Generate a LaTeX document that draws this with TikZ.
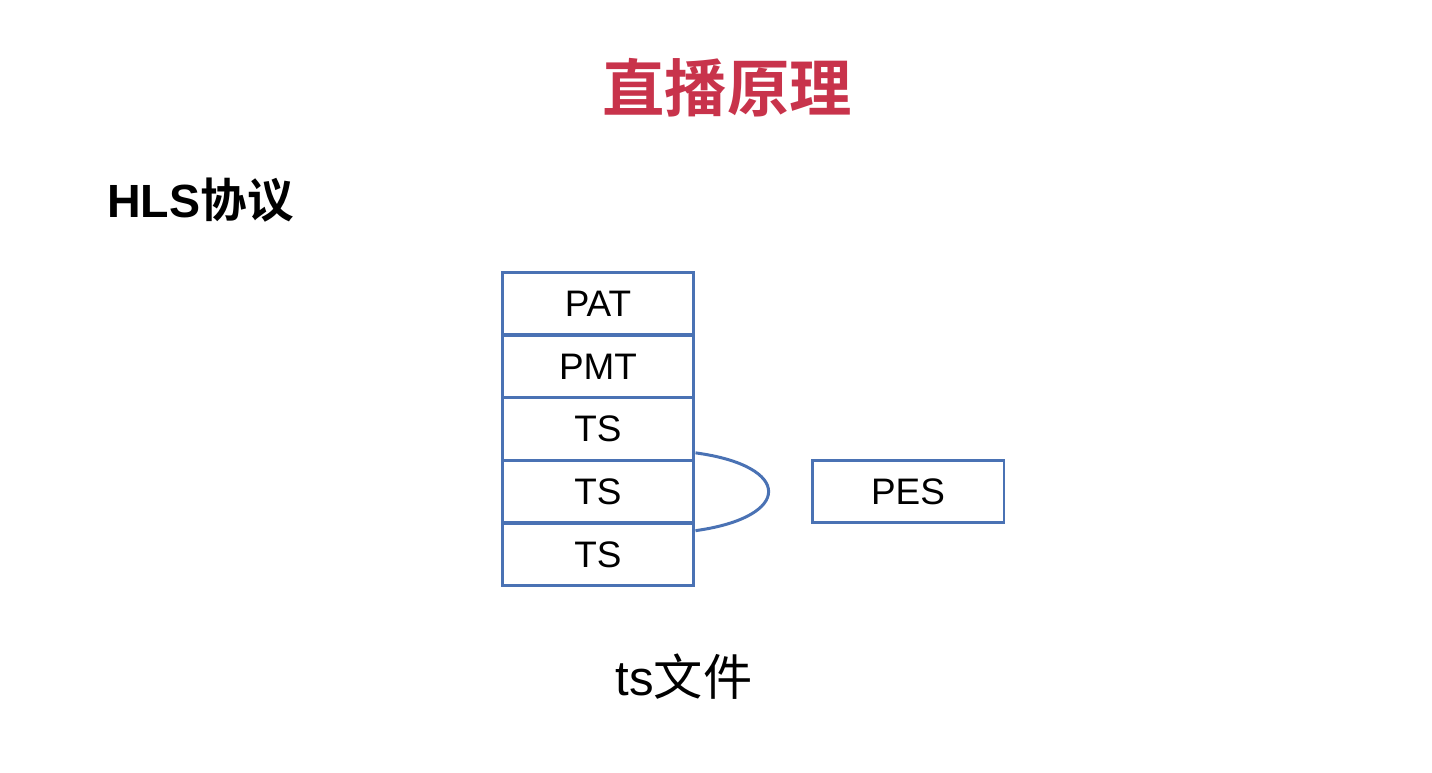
\documentclass[tikz,border=0pt]{standalone}
\usepackage{fontspec}
\setmainfont{Liberation Sans}
\newfontfamily\cjk{Noto Sans CJK SC}[BoldFont={Noto Sans CJK SC Bold}]
\usepackage{tikz}
\usetikzlibrary{calc}
\usepackage{xcolor}
\definecolor{titlered}{HTML}{C8334B}
\definecolor{boxblue}{HTML}{4A72B4}

\begin{document}
\begin{tikzpicture}[
    x=0.02cm, y=-0.02cm,
    cell/.style={draw=boxblue, line width=1.7pt, minimum width=3.84cm, minimum height=1.254cm, inner sep=0pt, font=\fontsize{21}{25}\selectfont},
    link/.style={draw=boxblue, line width=1.7pt},
    every node/.style={text=black}
]
\useasboundingbox[fill=white] (0,0) rectangle (1432,772);

% ---- Headings ----
\node[text=titlered, font=\fontsize{35.5}{42}\selectfont\cjk\bfseries] (title) at (727, 88) {直播原理};
\node[anchor=west, inner sep=0pt, font=\fontsize{26.5}{31}\selectfont\bfseries] (hls) at (107, 200) {HLS{\cjk 协议}};

% ---- ts file stack ----
\node[cell] (pat) at (598, 303.5) {PAT};
\node[cell] (pmt) at (598, 366.5) {PMT};
\node[cell] (ts1) at (598, 429) {TS};
\node[cell] (ts2) at (598, 491.5) {TS};
\node[cell] (ts3) at (598, 554.5) {TS};

% ---- PES ----
\node[cell] (pes) at (908, 491.5) {PES};

% ---- bracket from TS packets ----
\coordinate (bracket top) at ($(ts1.south east)+(0,-9)$);
\coordinate (bracket bot) at ($(ts3.north east)+(0,9)$);
\draw[link] (bracket top) .. controls (793, 466) and (793, 517) .. (bracket bot);

% ---- caption ----
\node[font=\fontsize{28}{33}\selectfont] (tsfile) at (684, 677) {ts{\cjk 文件}};

\end{tikzpicture}
\end{document}
